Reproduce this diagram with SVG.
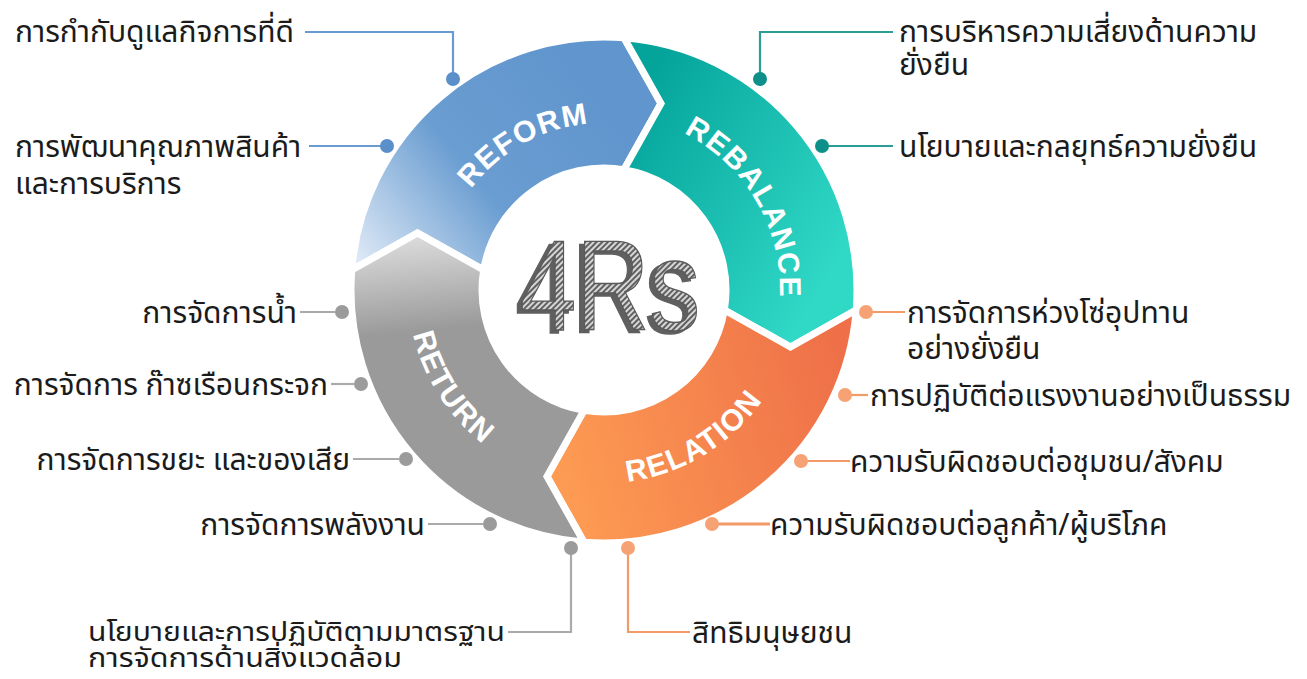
<svg xmlns="http://www.w3.org/2000/svg" xmlns:xlink="http://www.w3.org/1999/xlink" width="1307" height="679" viewBox="0 0 1307 679">
<defs>
<style>
.lbl{font-family:"Noto Sans Thai","Noto Sans","DejaVu Sans",sans-serif;font-size:30px;fill:#1b1b1b}
.sm{font-size:27px}
.ring{font-family:"Liberation Sans",Arial,sans-serif;font-weight:bold;font-size:30px;fill:#ffffff;letter-spacing:1.5px}
.seg{stroke:#ffffff;stroke-width:7;stroke-linejoin:miter;stroke-miterlimit:10}
.cb{fill:none;stroke:#6a9bd0;stroke-width:2.2}
.ct{fill:none;stroke:#2a9d96;stroke-width:2.2}
.cg{fill:none;stroke:#aaaaaa;stroke-width:2.2}
.co{fill:none;stroke:#f29a68;stroke-width:2.2}
.db{fill:#5b8fc9}.dt{fill:#0f8f8a}.dg{fill:#9b9b9b}.do{fill:#f7a274}
.big{font-family:"Liberation Sans",Arial,sans-serif;font-size:128px}
</style>
<linearGradient id="gBlue" gradientUnits="userSpaceOnUse" x1="600" y1="90" x2="365" y2="282">
<stop offset="0" stop-color="#6095cd"/><stop offset="0.5" stop-color="#6a9dd1"/><stop offset="1" stop-color="#e4edf8"/>
</linearGradient>
<linearGradient id="gTeal" gradientUnits="userSpaceOnUse" x1="630" y1="110" x2="850" y2="240">
<stop offset="0" stop-color="#05a49b"/><stop offset="1" stop-color="#30d8c6"/>
</linearGradient>
<linearGradient id="gOrange" gradientUnits="userSpaceOnUse" x1="550" y1="450" x2="850" y2="360">
<stop offset="0" stop-color="#fd9b53"/><stop offset="1" stop-color="#ee6f48"/>
</linearGradient>
<linearGradient id="gGray" gradientUnits="userSpaceOnUse" x1="420" y1="235" x2="430" y2="330">
<stop offset="0" stop-color="#dcdcdc"/><stop offset="1" stop-color="#9a9a9a"/>
</linearGradient>
<pattern id="hatch" width="4" height="4" patternUnits="userSpaceOnUse" patternTransform="rotate(45)">
<rect width="4" height="4" fill="#d6d6d6"/><rect width="2" height="4" fill="#606060"/>
</pattern>
<filter id="shade" x="-10%" y="-10%" width="120%" height="120%">
<feFlood flood-color="#5f5f5f" result="f"/>
<feComposite in="f" in2="SourceAlpha" operator="in" result="s"/>
<feOffset in="s" dx="-5" dy="3" result="o"/>
<feMerge><feMergeNode in="o"/><feMergeNode in="SourceGraphic"/></feMerge>
</filter>
<path id="arcReform" d="M437.03,286.79 A167,167 0 0 1 690.26,147"/>
<path id="arcRebal" d="M603.39,114 A176,176 0 0 1 756.73,377.47"/>
<path id="arcRel" d="M511.02,459.13 A193,193 0 0 0 796.96,285.96"/>
<path id="arcRet" d="M429.99,199.79 A196,196 0 0 0 612.89,485.8"/>
</defs>
<rect width="1307" height="679" fill="#ffffff"/>

<g id="reform">
<path class="seg" fill="url(#gBlue)" d="M351.79,270 A253,253 0 0 1 624,37.79 L661.01,103.52 L624,169.65 A122,122 0 0 0 483.65,270 L417.52,232.99 Z"/>
<text class="ring"><textPath xlink:href="#arcReform" href="#arcReform" startOffset="50%" text-anchor="middle">REFORM</textPath></text>
</g>
<g id="rebalance">
<path class="seg" fill="url(#gTeal)" d="M624,37.79 A253,253 0 0 1 856.21,310 L790.48,347.01 L724.35,310 A122,122 0 0 0 624,169.65 L661.01,103.52 Z"/>
<text class="ring"><textPath xlink:href="#arcRebal" href="#arcRebal" startOffset="50%" text-anchor="middle">REBALANCE</textPath></text>
</g>
<g id="relation">
<path class="seg" fill="url(#gOrange)" d="M856.21,310 A253,253 0 0 1 584,542.21 L546.99,476.48 L584,410.35 A122,122 0 0 0 724.35,310 L790.48,347.01 Z"/>
<text class="ring"><textPath xlink:href="#arcRel" href="#arcRel" startOffset="50%" text-anchor="middle">RELATION</textPath></text>
</g>
<g id="return">
<path class="seg" fill="url(#gGray)" d="M584,542.21 A253,253 0 0 1 351.79,270 L417.52,232.99 L483.65,270 A122,122 0 0 0 584,410.35 L546.99,476.48 Z"/>
<text class="ring"><textPath xlink:href="#arcRet" href="#arcRet" startOffset="50%" text-anchor="middle">RETURN</textPath></text>
</g>

<g id="center">
<text class="big" x="520" y="330" fill="url(#hatch)" stroke="#5a5a5a" stroke-width="1.4" filter="url(#shade)" textLength="180" lengthAdjust="spacingAndGlyphs">4Rs</text>
</g>

<g id="connectors">
<polyline class="cb" points="305,32 453,32 453,79"/>
<line class="cb" x1="309" y1="146" x2="387" y2="146"/>
<polyline class="ct" points="760,79 760,32 893,32"/>
<line class="ct" x1="822" y1="146" x2="893" y2="146"/>
<line class="co" x1="866" y1="312" x2="905" y2="312"/>
<line class="co" x1="845" y1="395" x2="868" y2="395"/>
<line class="co" x1="801" y1="461" x2="850" y2="461"/>
<line class="co" x1="712" y1="524" x2="770" y2="524" style="stroke-width:3"/>
<polyline class="co" points="628,548 628,632 690,632"/>
<line class="cg" x1="300" y1="312" x2="335" y2="312"/>
<line class="cg" x1="331" y1="384" x2="354" y2="384"/>
<line class="cg" x1="353" y1="459" x2="399" y2="459"/>
<line class="cg" x1="428" y1="524" x2="483" y2="524"/>
<polyline class="cg" points="571,548 571,632 508,632"/>
</g>

<g id="c-governance"><circle class="db" cx="453" cy="79" r="7"/><text class="lbl" x="15" y="42">การกำกับดูแลกิจการที่ดี</text></g>
<g id="c-quality"><circle class="db" cx="387" cy="146" r="7"/><text class="lbl"><tspan x="15" y="157">การพัฒนาคุณภาพสินค้า</tspan><tspan x="15" y="194">และการบริการ</tspan></text></g>
<g id="c-risk"><circle class="dt" cx="760" cy="79" r="7"/><text class="lbl"><tspan x="899" y="42">การบริหารความเสี่ยงด้านความ</tspan><tspan x="899" y="75">ยั่งยืน</tspan></text></g>
<g id="c-policy"><circle class="dt" cx="822" cy="146" r="7"/><text class="lbl" x="899" y="157">นโยบายและกลยุทธ์ความยั่งยืน</text></g>
<g id="c-supply"><circle class="do" cx="866" cy="312" r="7"/><text class="lbl"><tspan x="907" y="323">การจัดการห่วงโซ่อุปทาน</tspan><tspan x="907" y="359">อย่างยั่งยืน</tspan></text></g>
<g id="c-labour"><circle class="do" cx="845" cy="395" r="7"/><text class="lbl" x="870" y="406">การปฏิบัติต่อแรงงานอย่างเป็นธรรม</text></g>
<g id="c-community"><circle class="do" cx="801" cy="461" r="7"/><text class="lbl" x="850" y="472">ความรับผิดชอบต่อชุมชน/สังคม</text></g>
<g id="c-customer"><circle class="do" cx="712" cy="524" r="7"/><text class="lbl" x="770" y="535">ความรับผิดชอบต่อลูกค้า/ผู้บริโภค</text></g>
<g id="c-rights"><circle class="do" cx="628" cy="548" r="7"/><text class="lbl" x="692" y="643">สิทธิมนุษยชน</text></g>
<g id="c-water"><circle class="dg" cx="342" cy="312" r="7"/><text class="lbl" x="297" y="323" text-anchor="end">การจัดการน้ำ</text></g>
<g id="c-ghg"><circle class="dg" cx="361" cy="384" r="7"/><text class="lbl" x="328" y="395" text-anchor="end">การจัดการ ก๊าซเรือนกระจก</text></g>
<g id="c-waste"><circle class="dg" cx="406" cy="459" r="7"/><text class="lbl" x="350" y="470" text-anchor="end">การจัดการขยะ และของเสีย</text></g>
<g id="c-energy"><circle class="dg" cx="490" cy="524" r="7"/><text class="lbl" x="425" y="535" text-anchor="end">การจัดการพลังงาน</text></g>
<g id="c-envstd"><circle class="dg" cx="571" cy="548" r="7"/><text class="lbl sm"><tspan x="88" y="641" textLength="417" lengthAdjust="spacingAndGlyphs">นโยบายและการปฏิบัติตามมาตรฐาน</tspan><tspan x="88" y="667" textLength="314" lengthAdjust="spacingAndGlyphs">การจัดการด้านสิ่งแวดล้อม</tspan></text></g>
</svg>
